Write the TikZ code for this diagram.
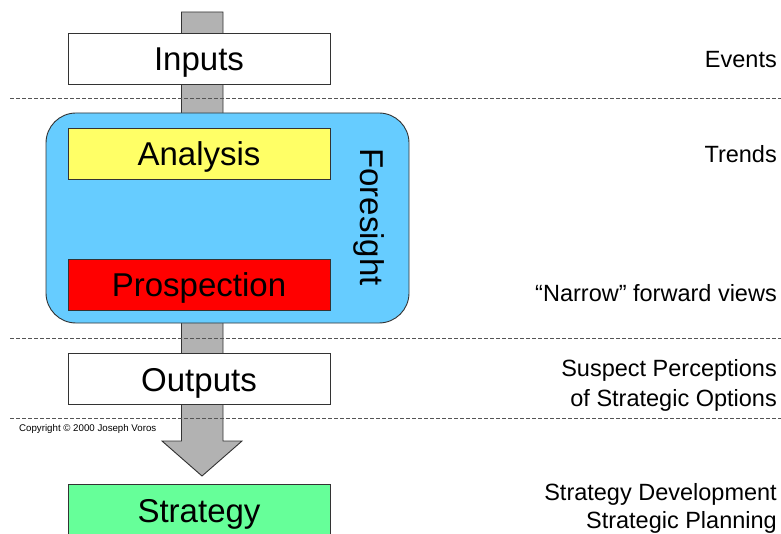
\documentclass[tikz,border=0pt]{standalone}
\usepackage{fontspec}
\setmainfont{Liberation Sans}
\definecolor{fsblue}{HTML}{66CCFF}
\definecolor{anyellow}{HTML}{FFFF66}
\definecolor{prred}{HTML}{FF0000}
\definecolor{stgreen}{HTML}{66FF99}
\definecolor{shaft}{HTML}{B2B2B2}
\definecolor{edge}{HTML}{333333}
\definecolor{dashgray}{HTML}{555555}
\tikzset{
  stagebox/.style={draw=edge, line width=0.9pt, minimum width=262pt, minimum height=51pt,
    inner sep=0pt, text height=25pt, text depth=0pt, font=\fontsize{33}{36}\selectfont},
  sidelabel/.style={anchor=base east, inner sep=0pt, font=\fontsize{23.5}{28}\selectfont},
  sep/.style={dashgray, line width=0.8pt, dash pattern=on 4pt off 2pt},
}
\begin{document}
\begin{tikzpicture}[x=1pt,y=-1pt]
\useasboundingbox (0,0) rectangle (781,534);
% big gray arrow behind everything
\coordinate (atop) at (202,12);
\coordinate (atip) at (202,476);
\draw[fill=shaft, draw=edge, line width=0.9pt]
  (181.5,12) -- (223,12) -- (223,441) -- (242,441) -- (atip) -- (162,441) -- (181.5,441) -- cycle;
% foresight container
\node[draw=edge, fill=fsblue, line width=0.9pt, rounded corners=30pt, minimum width=363pt,
  minimum height=210pt, inner sep=0pt] (fs) at (227.5,218) {};
\node[rotate=-90, anchor=base west, inner sep=0pt, font=\fontsize{33}{36}\selectfont] (fst) at (360,148) {Foresight};
% stage boxes
\node[stagebox, fill=white] (inputs) at (199,58.5) {Inputs};
\node[stagebox, fill=anyellow] (analysis) at (199,153.5) {Analysis};
\node[stagebox, fill=prred] (prosp) at (199,284.5) {Prospection};
\node[stagebox, fill=white] (outputs) at (199,378.5) {Outputs};
\node[stagebox, fill=stgreen] (strategy) at (199,509.5) {Strategy};
% separators
\draw[sep] (10,98.5) -- (781,98.5);
\draw[sep] (10,338.5) -- (781,338.5);
\draw[sep] (10,418.5) -- (781,418.5);
% copyright
\node[anchor=base west, inner sep=0pt, font=\fontsize{9.7}{11}\selectfont] (copy) at (19,431.5) {Copyright © 2000 Joseph Voros};
% side labels
\node[sidelabel] (ev) at (777,67.3) {Events};
\node[sidelabel] (tr) at (777,162.7) {Trends};
\node[sidelabel] (nf) at (777,301.5) {“Narrow” forward views};
\node[sidelabel] (sp1) at (777,376.7) {Suspect Perceptions};
\node[sidelabel] (sp2) at (777,406.5) {of Strategic Options};
\node[sidelabel] (sd1) at (777,500) {Strategy Development};
\node[sidelabel] (sd2) at (777,528) {Strategic Planning};
\end{tikzpicture}
\end{document}
